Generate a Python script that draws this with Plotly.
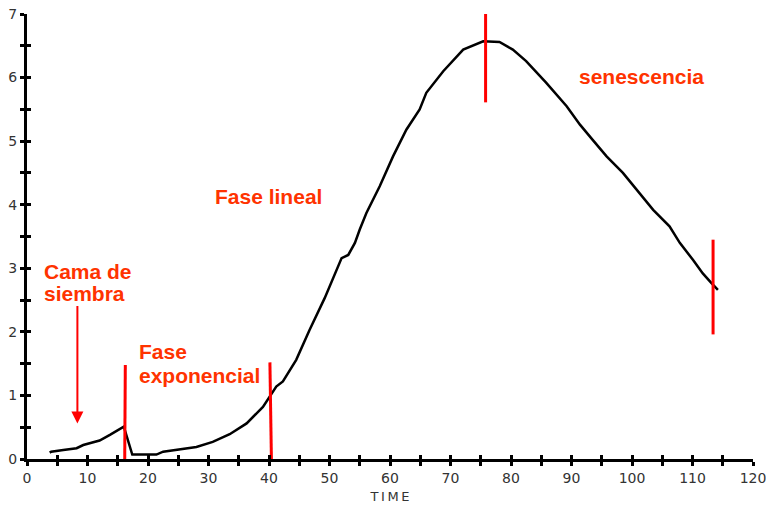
import plotly.graph_objects as go

# Growth curve
time_vals = [3.75, 4.0, 6.0, 8.2, 9.3, 12.0, 13.7, 16.0, 17.4, 21.4, 22.5, 25.2, 28.0, 30.7,
             33.5, 36.3, 39.0, 41.2, 42.3, 44.5, 46.7, 49.2, 52.0, 53.1, 54.2, 55.0, 56.1,
             58.3, 60.5, 62.7, 64.9, 66.0, 68.8, 72.1, 75.4, 78.1, 80.3, 82.5, 85.8, 89.2,
             91.4, 93.5, 95.8, 98.5, 100.7, 103.5, 106.2, 107.9, 110.1, 111.7, 113.1, 114.2]
growth_vals = [0.10, 0.115, 0.14, 0.17, 0.22, 0.29, 0.38, 0.51, 0.07, 0.07, 0.115, 0.15, 0.19,
               0.27, 0.39, 0.56, 0.82, 1.14, 1.22, 1.56, 2.03, 2.53, 3.16, 3.21, 3.40, 3.61,
               3.87, 4.29, 4.76, 5.18, 5.50, 5.76, 6.10, 6.44, 6.57, 6.56, 6.44, 6.26, 5.92,
               5.55, 5.26, 5.02, 4.76, 4.50, 4.24, 3.92, 3.66, 3.40, 3.13, 2.92, 2.77, 2.66]

# Phase boundary markers: (x_top, x_bottom, y_top, y_bottom)
marker_x_top = [16.25, 40.15, 75.8, 113.4]
marker_x_bottom = [16.15, 40.4, 75.8, 113.4]
marker_y_top = [1.48, 1.52, 7.1, 3.45]
marker_y_bottom = [-0.02, -0.02, 5.61, 1.96]

# Labels
label_texts = ["Cama de", "siembra", "Fase", "exponencial", "Fase lineal", "senescencia"]
label_x = [2.43, 2.43, 18.18, 18.18, 30.7, 90.9]
label_y = [2.95, 2.60, 1.685, 1.31, 4.13, 6.01]

# Arrow (Cama de siembra)
arrow_x = 8.33
arrow_y_start = 2.43
arrow_y_end = 0.56

x_ticks = list(range(0, 121, 10))
y_ticks = list(range(0, 8))

TEXT_RED = "#FF3300"
LINE_RED = "#FF0000"

fig = go.Figure()

fig.add_trace(go.Scatter(x=time_vals, y=growth_vals, mode="lines",
                         line=dict(color="black", width=2.5), hoverinfo="skip",
                         showlegend=False))

for xt, xb, yt, yb in zip(marker_x_top, marker_x_bottom, marker_y_top, marker_y_bottom):
    fig.add_trace(go.Scatter(x=[xt, xb], y=[yt, yb], mode="lines",
                             line=dict(color=LINE_RED, width=3), showlegend=False,
                             hoverinfo="skip", cliponaxis=False))

# invisible trace for overlay axes (inside ticks -> crossing ticks)
fig.add_trace(go.Scatter(x=[None], y=[None], xaxis="x2", yaxis="y2", showlegend=False))

tick_font = dict(family="DejaVu Sans, Liberation Sans, Arial", size=14, color="#333333")

fig.update_layout(
    width=766, height=507,
    margin=dict(l=27, r=13, t=14, b=48, autoexpand=False),
    paper_bgcolor="white", plot_bgcolor="white",
    xaxis=dict(range=[0, 120], tickvals=x_ticks, ticks="outside", ticklen=4, tickwidth=2.5,
               tickcolor="black", showline=True, linecolor="black", linewidth=3,
               showgrid=False, zeroline=False, tickfont=tick_font, automargin=False,
               ticklabeloverflow="allow",
               minor=dict(dtick=5, tick0=0, ticks="outside", ticklen=4, tickwidth=2.5,
                          tickcolor="black"),
               title=dict(text="T\u2009I\u2009M\u2009E",
                          font=dict(family="DejaVu Sans, Arial", size=13, color="#333333"),
                          standoff=8)),
    yaxis=dict(range=[0, 7], tickvals=y_ticks, ticks="outside", ticklen=4, tickwidth=2.5,
               tickcolor="black", showline=True, linecolor="black", linewidth=3,
               showgrid=False, zeroline=False, tickfont=tick_font, automargin=False,
               ticklabeloverflow="allow",
               minor=dict(dtick=0.5, tick0=0, ticks="outside", ticklen=4, tickwidth=2.5,
                          tickcolor="black")),
    xaxis2=dict(range=[0, 120], overlaying="x", anchor="y2", tickvals=x_ticks,
                ticks="inside", ticklen=4, tickwidth=2.5, tickcolor="black",
                showticklabels=False, showline=False, showgrid=False, zeroline=False,
                automargin=False,
                minor=dict(dtick=5, tick0=0, ticks="inside", ticklen=4, tickwidth=2.5,
                           tickcolor="black")),
    yaxis2=dict(range=[0, 7], overlaying="y", anchor="x2", tickvals=y_ticks,
                ticks="inside", ticklen=4, tickwidth=2.5, tickcolor="black",
                showticklabels=False, showline=False, showgrid=False, zeroline=False,
                automargin=False,
                minor=dict(dtick=0.5, tick0=0, ticks="inside", ticklen=4, tickwidth=2.5,
                           tickcolor="black")),
)

for t, lx, ly in zip(label_texts, label_x, label_y):
    fig.add_annotation(x=lx, y=ly, text="<b>" + t + "</b>", showarrow=False,
                       xanchor="left", yanchor="middle",
                       font=dict(family="Liberation Sans, Arial", size=21, color=TEXT_RED))

fig.add_annotation(x=arrow_x, y=arrow_y_end, ax=arrow_x, ay=arrow_y_start,
                   xref="x", yref="y", axref="x", ayref="y", text="",
                   showarrow=True, arrowhead=2, arrowsize=1.2, arrowwidth=2,
                   arrowcolor=LINE_RED)

fig.write_html("out.html", config={"displayModeBar": False},
               post_script="document.body.style.margin='0';document.body.style.overflow='hidden';")
